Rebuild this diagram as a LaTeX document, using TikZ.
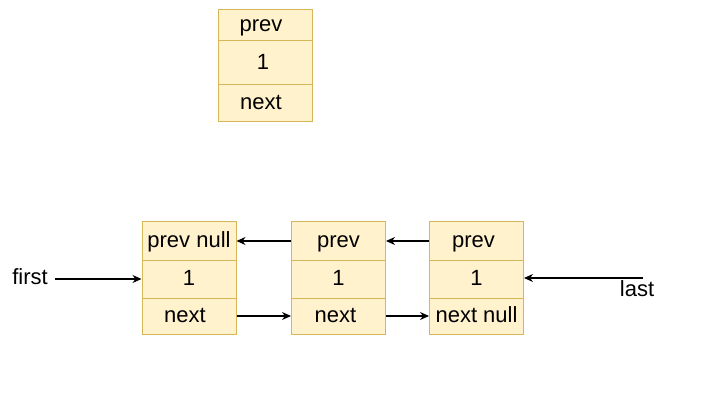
\documentclass[tikz,border=0pt]{standalone}
\usepackage{fontspec}
\setmainfont{Liberation Sans}
\usetikzlibrary{arrows.meta}
\definecolor{cellfill}{HTML}{FFF2CC}
\definecolor{cellborder}{HTML}{D6B656}
\tikzset{
  cell/.style={draw=cellborder, fill=cellfill, line width=1pt, minimum width=94pt, inner sep=0pt,
    text height=16pt, text depth=3pt, font=\fontsize{22}{26}\selectfont},
  lshift/.style={execute at begin node={\hspace*{-#1}}},
  link/.style={line width=1.2pt, -{Stealth[length=9pt,width=8pt]}},
  lbl/.style={inner sep=0pt, text height=16pt, text depth=3pt, font=\fontsize{22}{26}\selectfont}
}
\begin{document}
\begin{tikzpicture}[x=1pt,y=-1pt]
\useasboundingbox (0,0) rectangle (703,403);
% top node
\node[cell, minimum height=31pt, lshift=8pt] (tprev) at (265,25.5) {prev};
\node[cell, minimum height=44pt, lshift=4pt] (tval) at (265,63) {1};
\node[cell, minimum height=37pt, lshift=8pt] (tnext) at (265,103.5) {next};
% bottom node 1
\node[cell, minimum height=38pt] (aprev) at (189,241) {prev null};
\node[cell, minimum height=38pt] (aval) at (189,279) {1};
\node[cell, minimum height=36pt, lshift=8pt] (anext) at (189,316) {next};
% node 2
\node[cell, minimum height=38pt] (bprev) at (338.5,241) {prev};
\node[cell, minimum height=38pt] (bval) at (338.5,279) {1};
\node[cell, minimum height=36pt, lshift=6pt] (bnext) at (338.5,316) {next};
% node 3
\node[cell, minimum height=38pt, lshift=6pt] (cprev) at (476.5,241) {prev};
\node[cell, minimum height=38pt] (cval) at (476.5,279) {1};
\node[cell, minimum height=36pt] (cnext) at (476.5,316) {next null};
% labels
\node[lbl] (first) at (30,278) {first};
\node[lbl] (last) at (637,290) {last};
\coordinate (fstart) at (55,279);
\coordinate (lstart) at (643,278);
% connectors
\draw[link] (bprev.west) -- (aprev.east);
\draw[link] (cprev.west) -- (bprev.east);
\draw[link] (anext.east) -- (bnext.west);
\draw[link] (bnext.east) -- (cnext.west);
\draw[link] (fstart) -- (aval.west);
\draw[link] (lstart) -- (lstart -| cval.east);
\end{tikzpicture}
\end{document}
